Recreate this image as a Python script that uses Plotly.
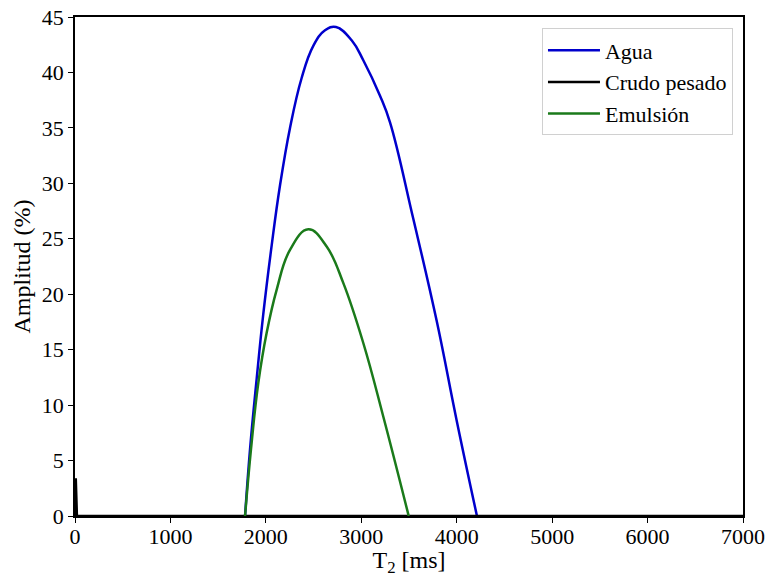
import plotly.graph_objects as go

# T2 distribution (amplitude vs relaxation time)
agua_t2 = [1782, 1834, 1904, 1973, 2061, 2148, 2253, 2375, 2497, 2620, 2735,
           2899, 3021, 3196, 3301, 3545, 3790, 4000, 4212]
agua_amp = [0, 6.0, 12.4, 18.2, 24.4, 29.8, 35.0, 39.5, 42.4, 43.8, 44.1,
            42.9, 41.1, 37.9, 35.5, 26.8, 17.6, 8.6, 0]

crudo_t2 = [0, 8, 20, 7000]
crudo_amp = [0, 3.4, 0, 0]

emulsion_t2 = [1782, 1844, 1921, 2008, 2113, 2253, 2445, 2637, 2812, 3021, 3231, 3497]
emulsion_amp = [0, 6.0, 12.0, 16.5, 20.4, 24.0, 25.85, 24.3, 21.0, 15.6, 8.95, 0]

x_ticks = [0, 1000, 2000, 3000, 4000, 5000, 6000, 7000]
y_ticks = [0, 5, 10, 15, 20, 25, 30, 35, 40, 45]

FONT = "Liberation Serif"
TICK_FS = 22
TITLE_FS = 24
LEGEND_FS = 22

fig = go.Figure()
fig.add_trace(go.Scatter(x=agua_t2, y=agua_amp, mode="lines", name="Agua",
                         legendgroup="a", line=dict(color="#0000cc", width=2.5, shape="spline", smoothing=1.2)))
fig.add_trace(go.Scatter(x=crudo_t2, y=crudo_amp, mode="lines", name="Crudo pesado",
                         legendgroup="b", line=dict(color="#000000", width=2.5)))
fig.add_trace(go.Scatter(x=emulsion_t2, y=emulsion_amp, mode="lines", name="Emulsión",
                         legendgroup="c", line=dict(color="#1a7a1a", width=2.5, shape="spline", smoothing=1.2)))

axis_common = dict(
    showline=True, linecolor="black", linewidth=1.6, mirror=True,
    ticks="outside", ticklen=5, tickwidth=1.2, tickcolor="black",
    showgrid=False, zeroline=False, automargin=False,
    tickfont=dict(family=FONT, size=TICK_FS, color="black"),
)

fig.update_layout(
    width=770, height=577,
    margin=dict(l=75, r=27, t=17, b=61, autoexpand=False),
    paper_bgcolor="white", plot_bgcolor="white",
    font=dict(family=FONT, size=TICK_FS, color="black"),
    xaxis=dict(range=[0, 7000], tickvals=x_ticks, ticklabelstandoff=-5,
               title=dict(text="T<sub>2</sub> [ms]", font=dict(family=FONT, size=TITLE_FS), standoff=4),
               **axis_common),
    yaxis=dict(range=[0, 45], tickvals=y_ticks,
               title=dict(text="Amplitud (%)", font=dict(family=FONT, size=TITLE_FS), standoff=4),
               **axis_common),
    legend=dict(x=0.985, y=0.977, xanchor="right", yanchor="top",
                bgcolor="white", bordercolor="#d0d0d0", borderwidth=1,
                font=dict(family=FONT, size=LEGEND_FS), tracegroupgap=0, itemwidth=52),
    showlegend=True,
)

fig.write_html("out.html")
